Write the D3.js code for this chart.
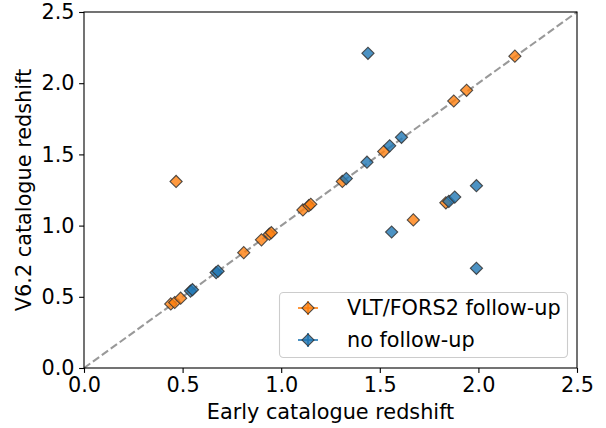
<!DOCTYPE html>
<html>
<head>
<meta charset="utf-8">
<script src="https://cdn.jsdelivr.net/npm/d3@7"></script>
<style>
  html, body { margin: 0; padding: 0; background: #fff; }
  svg { display: block; font-family: "DejaVu Sans", sans-serif; }
</style>
</head>
<body>
<svg id="chart" width="606" height="428"></svg>
<script>
// ---- data ----
const seriesNames = ["VLT/FORS2 follow-up", "no follow-up"];
const seriesColors = ["#ff7f0e", "#1f77b4"];

const vltEarly = [0.44, 0.46, 0.49, 0.81, 0.90, 0.94, 0.95, 1.11, 1.14, 1.15, 1.31, 1.52, 1.67, 1.835, 1.875, 1.94, 2.185, 0.467];
const vltV62   = [0.45, 0.46, 0.49, 0.81, 0.90, 0.94, 0.95, 1.11, 1.14, 1.15, 1.31, 1.52, 1.04, 1.16, 1.875, 1.95, 2.19, 1.31];

const noEarly = [0.54, 0.55, 0.67, 0.68, 1.33, 1.435, 1.55, 1.61, 1.44, 1.56, 1.85, 1.88, 1.99, 1.99];
const noV62   = [0.54, 0.55, 0.67, 0.68, 1.33, 1.445, 1.56, 1.62, 2.21, 0.955, 1.17, 1.20, 1.28, 0.70];

const xTicks = [0.0, 0.5, 1.0, 1.5, 2.0, 2.5];
const yTicks = [0.0, 0.5, 1.0, 1.5, 2.0, 2.5];
const xLabel = "Early catalogue redshift";
const yLabel = "V6.2 catalogue redshift";

// ---- layout ----
const svg = d3.select("#chart");
const L = 84, R = 577, T = 12, B = 368;
const fs = 20.8;

const x = d3.scaleLinear().domain([0, 2.5]).range([L, R]);
const y = d3.scaleLinear().domain([0, 2.5]).range([B, T]);

// one-to-one dashed line
svg.append("line")
  .attr("x1", x(0)).attr("y1", y(0))
  .attr("x2", x(2.5)).attr("y2", y(2.5))
  .attr("stroke", "#999999").attr("stroke-width", 2.08)
  .attr("stroke-dasharray", "7.7,3.3");

const diamond = d3.symbol().type(d3.symbolSquare).size(8.6 * 8.6);

function drawSeries(xs, ys, color) {
  const pts = xs.map((v, i) => [v, ys[i]]);
  svg.append("g").selectAll("path").data(pts).join("path")
    .attr("d", diamond)
    .attr("transform", d => `translate(${x(d[0])},${y(d[1])}) rotate(45)`)
    .attr("fill", color).attr("fill-opacity", 0.8)
    .attr("stroke", "#333").attr("stroke-opacity", 0.85).attr("stroke-width", 1.1);
}
drawSeries(vltEarly, vltV62, seriesColors[0]);
drawSeries(noEarly, noV62, seriesColors[1]);

// axes
const xAxis = d3.axisBottom(x).tickValues(xTicks).tickFormat(d3.format(".1f"))
  .tickSize(4.9).tickPadding(4.5).tickSizeOuter(0);
const yAxis = d3.axisLeft(y).tickValues(yTicks).tickFormat(d3.format(".1f"))
  .tickSize(4.9).tickPadding(4.5).tickSizeOuter(0);

const gx = svg.append("g").attr("transform", `translate(0,${B})`).call(xAxis);
const gy = svg.append("g").attr("transform", `translate(${L},0)`).call(yAxis);
[gx, gy].forEach(g => {
  g.select(".domain").remove();
  g.selectAll(".tick line").attr("stroke", "#000").attr("stroke-width", 1.1);
  g.selectAll(".tick text").attr("fill", "#000")
    .style("font-size", fs + "px").style("font-family", "DejaVu Sans");
});

// frame
svg.append("rect").attr("x", L).attr("y", T).attr("width", R - L).attr("height", B - T)
  .attr("fill", "none").attr("stroke", "#000").attr("stroke-width", 1.1);

// axis labels
svg.append("text").attr("x", (L + R) / 2).attr("y", 419)
  .attr("text-anchor", "middle").style("font-size", fs + "px").text(xLabel);
svg.append("text")
  .attr("transform", `translate(31,${(T + B) / 2}) rotate(-90)`)
  .attr("text-anchor", "middle").style("font-size", fs + "px").text(yLabel);

// legend
const lg = svg.append("g");
lg.append("rect").attr("x", 279.5).attr("y", 292.5).attr("width", 288).attr("height", 65)
  .attr("rx", 4).attr("fill", "#fff").attr("fill-opacity", 0.8)
  .attr("stroke", "#cccccc").attr("stroke-width", 1.1);
const legY = [308, 340];
seriesNames.forEach((name, i) => {
  const cx = 308, cy = legY[i], c = seriesColors[i];
  lg.append("line").attr("x1", cx - 10).attr("x2", cx + 10).attr("y1", cy).attr("y2", cy)
    .attr("stroke", c).attr("stroke-width", 2).attr("stroke-opacity", 0.8);
  lg.append("line").attr("x1", cx).attr("x2", cx).attr("y1", cy - 7).attr("y2", cy + 7)
    .attr("stroke", c).attr("stroke-width", 2).attr("stroke-opacity", 0.8);
  lg.append("path").attr("d", diamond)
    .attr("transform", `translate(${cx},${cy}) rotate(45)`)
    .attr("fill", c).attr("fill-opacity", 0.8)
    .attr("stroke", "#333").attr("stroke-opacity", 0.85).attr("stroke-width", 1.1);
  lg.append("text").attr("x", 347).attr("y", cy).attr("dy", "0.36em")
    .style("font-size", fs + "px").text(name);
});
</script>
</body>
</html>
